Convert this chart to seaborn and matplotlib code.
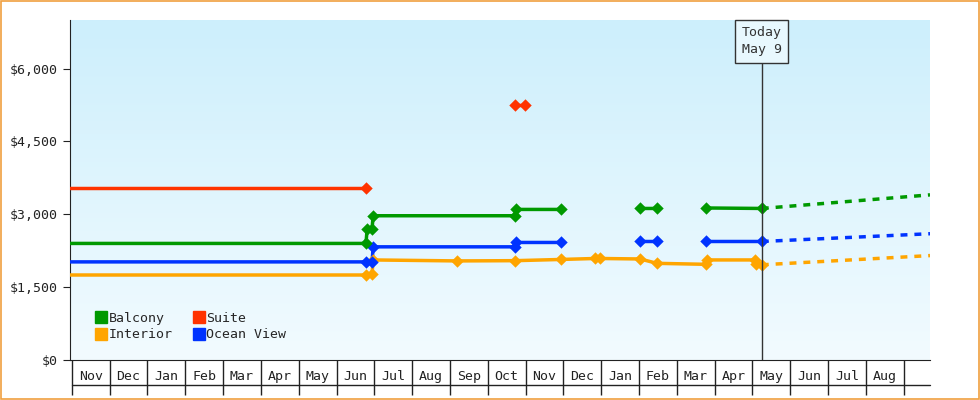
import numpy as np
import pandas as pd
import seaborn as sns
import matplotlib
matplotlib.use("Agg")
import matplotlib.pyplot as plt
from matplotlib.lines import Line2D
from matplotlib.patches import Rectangle

sns.set_style("white")
plt.rcParams['font.family'] = ['DejaVu Sans Mono', 'DejaVu Sans']

months = ["Nov","Dec","Jan","Feb","Mar","Apr","May","Jun","Jul","Aug","Sep","Oct",
          "Nov","Dec","Jan","Feb","Mar","Apr","May","Jun","Jul","Aug"]

# x in months from start of first Nov; NaN breaks a line
bal_x = [-0.05, 7.78, 7.81, 7.94, 7.97, 11.72, 11.75, 12.94, np.nan, 15.03, 15.48, np.nan, 16.77, 18.25]
bal_y = [2400, 2400, 2700, 2700, 2970, 2970, 3100, 3100, np.nan, 3120, 3120, np.nan, 3130, 3120]
ste_x = [-0.05, 7.78, np.nan, 11.72, 11.98]
ste_y = [3550, 3550, np.nan, 5250, 5250]
ocn_x = [-0.05, 7.78, 7.94, 7.97, 11.72, 11.75, 12.94, np.nan, 15.03, 15.48, np.nan, 16.77, 18.25]
ocn_y = [2020, 2020, 2020, 2330, 2330, 2420, 2420, np.nan, 2440, 2440, np.nan, 2440, 2440]
int_x = [-0.05, 7.78, 7.94, 7.97, 10.19, 11.72, 12.94, 13.84, 13.97, 15.03, 15.48, 16.77, 16.80, 18.07, 18.10, 18.25]
int_y = [1750, 1750, 1780, 2060, 2040, 2045, 2070, 2090, 2090, 2080, 1990, 1970, 2060, 2060, 1980, 1960]
fc_x = [18.25, 22.7]
fc_bal = [3120, 3400]
fc_ocn = [2440, 2600]
fc_int = [1960, 2150]

C = {"Balcony": "#009900", "Suite": "#ff3300", "Interior": "#ffa500", "Ocean View": "#0033ff"}

fig = plt.figure(figsize=(9.8, 4), dpi=100)
fig.patch.set_facecolor("white")
fig.add_artist(Rectangle((0.001, 0.002), 0.998, 0.996, transform=fig.transFigure,
                         fill=False, edgecolor="#f0a040", lw=1.2))
ax = fig.add_axes([70/980, 40/400, 860/980, 340/400])
xmin, xmax = -0.05, 22.7
ax.set_xlim(xmin, xmax)
ax.set_ylim(0, 7000)
grad = np.linspace(0, 1, 256).reshape(-1, 1)
cmap = matplotlib.colors.LinearSegmentedColormap.from_list("g", ["#f2fbff", "#cdeffc"])
ax.imshow(grad, aspect="auto", cmap=cmap, origin="lower",
          extent=[xmin, xmax, 0, 7000], zorder=0)

for name, xs, ys in [("Suite", ste_x, ste_y), ("Interior", int_x, int_y),
                     ("Ocean View", ocn_x, ocn_y), ("Balcony", bal_x, bal_y)]:
    df = pd.DataFrame({"x": xs, "y": ys})
    ax.plot(df.x, df.y, color=C[name], lw=2.5, zorder=3)
    d = df.dropna()
    d = d[d.x > 0]
    sns.scatterplot(data=d, x="x", y="y", ax=ax, color=C[name], marker="D", s=40,
                    edgecolor=C[name], linewidth=0, zorder=4, legend=False)
for name, ys in [("Balcony", fc_bal), ("Ocean View", fc_ocn), ("Interior", fc_int)]:
    ax.plot(fc_x, ys, color=C[name], lw=2.5, ls=(0, (2, 2)), zorder=3)

ax.set_xlabel(""); ax.set_ylabel("")
ax.axvline(18.25, ymax=6500/7000, color="#333333", lw=1, zorder=5)
ax.text(18.25, 6560, "Today\nMay 9", ha="center", va="center", fontsize=9.5, color="#333333",
        linespacing=1.4,
        bbox=dict(boxstyle="square,pad=0.5", fc="#e8f8fe", ec="#333333", lw=1), zorder=6)

ax.set_yticks([0, 1500, 3000, 4500, 6000])
ax.set_yticklabels(["$0", "$1,500", "$3,000", "$4,500", "$6,000"], fontsize=9.5, color="#222222")
ax.set_xticks(np.arange(len(months)) + 0.5)
ax.set_xticklabels(months, fontsize=9.5, color="#222222")
ax.set_xticks(np.arange(len(months) + 1), minor=True)
ax.tick_params(axis="x", which="major", length=0, pad=7, bottom=False)
ax.tick_params(axis="x", which="minor", length=25, direction="out", color="#222222",
               width=1, bottom=True)
ax.tick_params(axis="y", length=5, direction="out", color="#222222", left=True)
for s in ["top", "right"]:
    ax.spines[s].set_visible(False)
for s in ["left", "bottom"]:
    ax.spines[s].set_color("#222222")
fig.add_artist(Line2D([72/980, 930/980], [15/400, 15/400], color="#222222", lw=1,
                      transform=fig.transFigure))

handles = [Line2D([], [], marker="s", ls="", color=C[n], markersize=8, label=n)
           for n in ["Balcony", "Interior", "Suite", "Ocean View"]]
ax.legend(handles=handles, ncol=2, loc="lower left", bbox_to_anchor=(0.015, 0.02),
          frameon=False, fontsize=9.5, handletextpad=0.05, columnspacing=1.5,
          labelspacing=0.25, handlelength=1.0)
fig.savefig("out.png", dpi=100)
